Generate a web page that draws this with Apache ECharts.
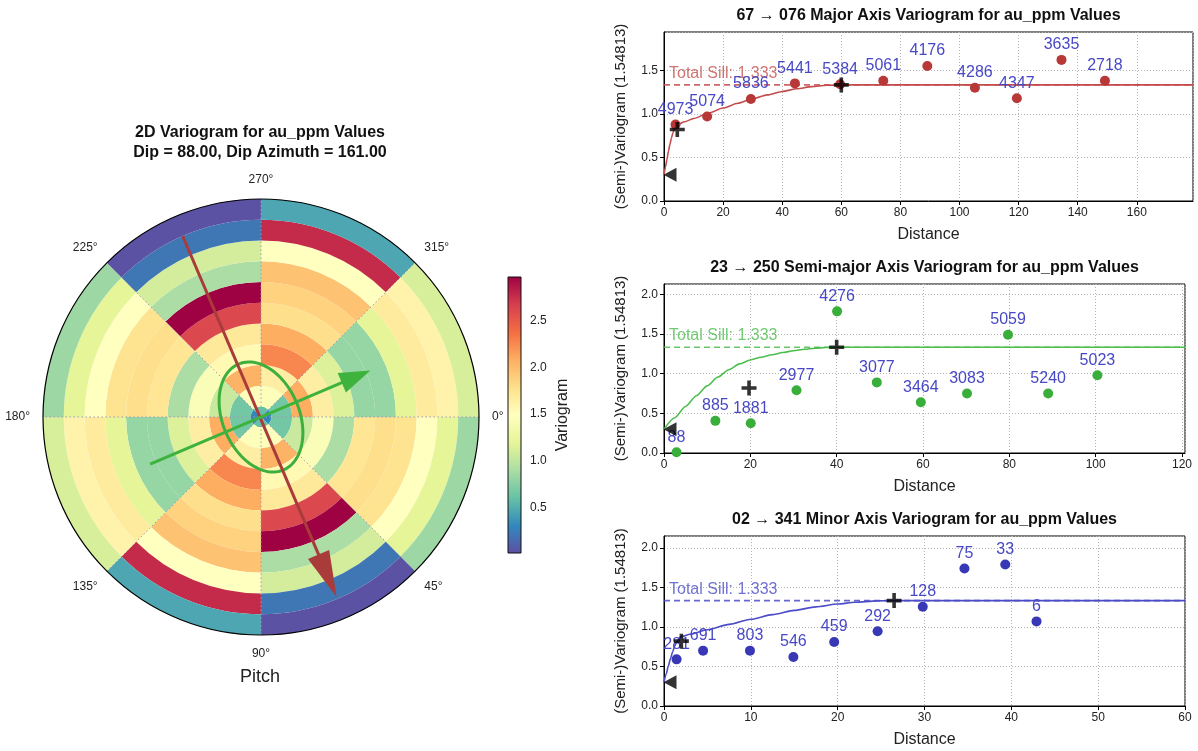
<!DOCTYPE html>
<html>
<head>
<meta charset="utf-8">
<script src="https://cdn.jsdelivr.net/npm/echarts@6/dist/echarts.min.js"></script>
<style>
  html, body { margin: 0; padding: 0; background: #fff; }
  #chart { width: 1198px; height: 751px; }
</style>
</head>
<body>
<div id="chart"></div>
<script>
// ---------- pitch-plane variogram map (8 direction sectors x 11 lag rings) ----------
const sectorLabels = ['0-45', '45-90', '90-135', '135-180', '180-225', '225-270', '270-315', '315-360'];
const ringWidths = [0.5, 1, 1, 1, 1, 1, 1, 1, 1, 1, 1];   // lag bins, the first one is the half bin at the origin
// variogram value per ring (inner -> outer); opposite sectors share the same values
const sectorA = [0.30, 0.66, 1.05, 1.43, 0.90, 1.73, 1.78, 1.75, 1.49, 1.19, 0.84]; //   0-45  / 180-225
const sectorB = [0.60, 1.47, 2.05, 1.55, 1.70, 2.61, 2.96, 0.90, 1.10, 0.22, 0.03]; //  45-90  / 225-270
const sectorC = [0.60, 1.45, 1.65, 2.26, 2.08, 1.78, 1.87, 1.96, 1.49, 2.76, 0.46]; //  90-135 / 270-315
const sectorD = [0.30, 0.66, 2.08, 1.65, 1.15, 0.81, 0.81, 1.19, 1.68, 1.60, 1.12]; // 135-180 / 315-360
const colorMin = 0.014, colorMax = 2.965;
const colorTicks = [0.5, 1.0, 1.5, 2.0, 2.5];
const angleTicks = [0, 45, 90, 135];          // sector boundary diameters
const spectralR = ['#5e4fa2', '#3288bd', '#66c2a5', '#abdda4', '#e6f598', '#ffffbf',
                   '#fee08b', '#fdae61', '#f46d43', '#d53e4f', '#9e0142'];

// anisotropy overlays, [radius, angle] in map units
const majorArrow = [[9.50, 246.6, 9.40, 67.2]];
const minorArrow = [[5.80, 157.0, 5.72, 337.0]];
const rangeEllipse = [[2.77, 1.85, 67.0]];   // [major, minor, azimuth]

// ---------- directional experimental variograms ----------
const nugget = 0.3;
const sill = 1.333;

const majorLag   = [3.9, 14.6, 29.4, 44.3, 59.6, 74.2, 89.1, 105.2, 119.4, 134.5, 149.2];
const majorGamma = [0.877, 0.97, 1.17, 1.35, 1.34, 1.38, 1.55, 1.30, 1.18, 1.62, 1.38];
const majorPairs = [4973, 5074, 5836, 5441, 5384, 5061, 4176, 4286, 4347, 3635, 2718];
const majorModel = [[0, 0.30], [0.5, 0.39], [1, 0.48], [1.5, 0.57], [2, 0.65], [2.5, 0.72], [3, 0.78],
                    [3.5, 0.83], [4, 0.86], [4.5, 0.878], [7, 0.909], [10, 0.947], [15, 1.008],
                    [20, 1.067], [25, 1.122], [30, 1.173], [35, 1.218], [40, 1.257], [45, 1.289],
                    [50, 1.313], [55, 1.328], [60, 1.333], [179, 1.333]];
const majorRanges = [[4.5, 0.82], [60, 1.333]];

const semiLag   = [2.9, 11.9, 20.1, 30.7, 40.1, 49.3, 59.5, 70.2, 79.7, 89.0, 100.4];
const semiGamma = [0.01, 0.405, 0.375, 0.79, 1.785, 0.89, 0.64, 0.75, 1.49, 0.75, 0.98];
const semiPairs = [88, 885, 1881, 2977, 4276, 3077, 3464, 3083, 5059, 5240, 5023];
const semiModel = [[0, 0.30], [2.5, 0.445], [5, 0.587], [7.5, 0.722], [10, 0.846], [12.5, 0.957],
                   [15, 1.050], [17.5, 1.123], [20, 1.173], [22.5, 1.207], [25, 1.238], [27.5, 1.266],
                   [30, 1.289], [32.5, 1.308], [35, 1.321], [37.5, 1.330], [40, 1.333], [120.7, 1.333]];
const semiRanges = [[19.7, 0.82], [40, 1.333]];

const minorLag   = [1.45, 4.5, 9.9, 14.9, 19.6, 24.6, 29.8, 34.6, 39.3, 42.9];
const minorGamma = [0.59, 0.70, 0.70, 0.62, 0.81, 0.945, 1.255, 1.74, 1.79, 1.07];
const minorPairs = [281, 691, 803, 546, 459, 292, 128, 75, 33, 6];
const minorModel = [[0, 0.30], [0.25, 0.404], [0.5, 0.505], [0.75, 0.60], [1, 0.687], [1.25, 0.760],
                    [1.5, 0.819], [1.75, 0.859], [2, 0.878], [3, 0.907], [5, 0.964], [7.5, 1.032],
                    [10, 1.097], [12.5, 1.156], [15, 1.209], [17.5, 1.254], [20, 1.290], [22, 1.312],
                    [24.5, 1.329], [26.5, 1.333], [60, 1.333]];
const minorRanges = [[2, 0.82], [26.5, 1.333]];

// ---------- layout / styling ----------
const FONT = '"Liberation Sans", Arial, Helvetica, sans-serif';
const TXT = '#222';
const sectorValues = [sectorA, sectorB, sectorC, sectorD];
const PLUS = 'path://M38,0H62V38H100V62H62V100H38V62H0V38H38Z';

const panels = [
  { title: '67 \u2192 076 Major Axis Variogram for au_ppm Values', lag: majorLag, gamma: majorGamma,
    pairs: majorPairs, model: majorModel, ranges: majorRanges,
    top: 32, width: 529, height: 169, xMax: 179, xStep: 20, yMax: 1.94,
    point: '#b83838', line: '#c44b4b', sillText: '#c4514f' },
  { title: '23 \u2192 250 Semi-major Axis Variogram for au_ppm Values', lag: semiLag, gamma: semiGamma,
    pairs: semiPairs, model: semiModel, ranges: semiRanges,
    top: 284, width: 521, height: 169, xMax: 120.7, xStep: 20, yMax: 2.13,
    point: '#3aae3a', line: '#4dbd4d', sillText: '#4dbd4d' },
  { title: '02 \u2192 341 Minor Axis Variogram for au_ppm Values', lag: minorLag, gamma: minorGamma,
    pairs: minorPairs, model: minorModel, ranges: minorRanges,
    top: 536, width: 521, height: 170, xMax: 60, xStep: 10, yMax: 2.15,
    point: '#3838b6', line: '#4c4cc8', sillText: '#4c4cc8' }
];

const PLOT_LEFT = 664;
const grids = [], xAxes = [], yAxes = [], titles = [], series = [];

panels.forEach((p, i) => {
  grids.push({ left: PLOT_LEFT, top: p.top, width: p.width, height: p.height,
               show: true, borderColor: '#000', borderWidth: 1, backgroundColor: 'transparent' });
  xAxes.push({
    gridIndex: i, type: 'value', min: 0, max: p.xMax, interval: p.xStep,
    name: 'Distance', nameLocation: 'middle', nameGap: 26,
    nameTextStyle: { fontSize: 16, color: TXT, fontFamily: FONT },
    axisLine: { show: true, lineStyle: { color: '#000', width: 1 } },
    axisTick: { show: true, length: 4, lineStyle: { color: '#000' } },
    axisLabel: { fontSize: 12, color: TXT, margin: 6, fontFamily: FONT,
                 showMaxLabel: p.xMax % p.xStep === 0 },
    splitLine: { show: true, lineStyle: { color: '#b4b4b4', type: [1, 2], width: 1 } }
  });
  yAxes.push({
    gridIndex: i, type: 'value', min: 0, max: p.yMax, interval: 0.5,
    name: '(Semi-)Variogram (1.54813)', nameLocation: 'middle', nameGap: 36, nameRotate: 90,
    nameTextStyle: { fontSize: 15, color: TXT, fontFamily: FONT },
    axisLine: { show: true, lineStyle: { color: '#000', width: 1 } },
    axisTick: { show: true, length: 4, lineStyle: { color: '#000' } },
    axisLabel: { fontSize: 12, color: TXT, margin: 6, fontFamily: FONT, showMaxLabel: false,
                 formatter: v => v.toFixed(1) },
    splitLine: { show: true, lineStyle: { color: '#b4b4b4', type: [1, 2], width: 1 } }
  });
  titles.push({ text: p.title, left: PLOT_LEFT + p.width / 2, top: p.top - 24, textAlign: 'center', padding: 0,
                textStyle: { fontSize: 16, fontWeight: 'bold', color: '#111', fontFamily: FONT } });

  // fitted model
  series.push({ type: 'line', xAxisIndex: i, yAxisIndex: i, data: p.model, smooth: 0.25,
                smoothMonotone: 'x', showSymbol: false, silent: true, z: 3,
                lineStyle: { color: p.line, width: 1.6 } });
  // total sill
  series.push({ type: 'line', xAxisIndex: i, yAxisIndex: i, data: [[0, sill], [p.xMax, sill]],
                showSymbol: false, silent: true, z: 3,
                lineStyle: { color: p.line, width: 1.6, type: [6, 4], opacity: 0.85 } });
  series.push({ type: 'scatter', xAxisIndex: i, yAxisIndex: i, data: [[0, sill]], symbolSize: 1,
                itemStyle: { color: 'rgba(0,0,0,0)' }, silent: true, z: 4,
                label: { show: true, position: 'top', align: 'left', distance: 3, offset: [5, 0],
                         formatter: 'Total Sill: ' + sill.toFixed(3),
                         fontSize: 16, color: p.sillText, fontFamily: FONT } });
  // experimental points with pair counts
  series.push({ type: 'scatter', xAxisIndex: i, yAxisIndex: i, z: 5, silent: true,
                data: p.lag.map((x, k) => [x, p.gamma[k], p.pairs[k]]),
                symbolSize: 10, itemStyle: { color: p.point, opacity: 1 },
                label: { show: true, position: 'top', distance: 2, formatter: d => d.value[2],
                         fontSize: 16, color: '#4848c6', fontFamily: FONT } });
  // nugget marker
  series.push({ type: 'scatter', xAxisIndex: i, yAxisIndex: i, z: 6, silent: true,
                data: [[0, nugget]], symbol: 'triangle', symbolRotate: 90, symbolSize: [14, 13],
                symbolOffset: [6, 0], itemStyle: { color: '#000' } });
  // structure ranges
  series.push({ type: 'scatter', xAxisIndex: i, yAxisIndex: i, z: 6, silent: true,
                data: p.ranges, symbol: PLUS, symbolSize: 15, itemStyle: { color: '#000' } });
});

// colorbar axes
grids.push({ left: 508, top: 277, width: 13, height: 276, show: false });
xAxes.push({ gridIndex: 3, type: 'value', min: 0, max: 1, show: false });
yAxes.push({
  gridIndex: 3, type: 'value', min: colorMin, max: colorMax, position: 'right',
  name: 'Variogram', nameLocation: 'middle', nameGap: 34, nameRotate: 90,
  nameTextStyle: { fontSize: 16, color: TXT, fontFamily: FONT },
  axisLine: { show: false },
  axisTick: { show: true, length: 4, customValues: colorTicks, lineStyle: { color: '#000' } },
  axisLabel: { fontSize: 12, color: TXT, margin: 9, fontFamily: FONT, customValues: colorTicks,
               formatter: v => v.toFixed(1) },
  splitLine: { show: false }
});
series.push({
  type: 'custom', xAxisIndex: 3, yAxisIndex: 3, silent: true, data: [[0, colorMin, 1, colorMax]],
  renderItem: (params, api) => {
    const p0 = api.coord([api.value(0), api.value(1)]);
    const p1 = api.coord([api.value(2), api.value(3)]);
    return { type: 'rect',
      shape: { x: p0[0], y: p1[1], width: p1[0] - p0[0], height: p0[1] - p1[1] },
      style: { fill: new echarts.graphic.LinearGradient(0, 1, 0, 0,
                 spectralR.map((c, k) => ({ offset: k / (spectralR.length - 1), color: c }))),
               stroke: '#111', lineWidth: 1 } };
  }
});

// heat rings on the pitch plane
const heatSeriesIdx = [];
ringWidths.forEach((w, i) => {
  heatSeriesIdx.push(series.length);
  series.push({
    type: 'bar', coordinateSystem: 'polar', polarIndex: 0, stack: 'rings',
    barCategoryGap: '0%', silent: true, z: 2,
    encode: { radius: 0, angle: 1 },
    itemStyle: { borderWidth: 0 },
    data: sectorLabels.map((s, k) => [w, s, sectorValues[k % 4][i]])
  });
});

// dotted sector boundaries
series.push({
  type: 'custom', coordinateSystem: 'polar', polarIndex: 1, silent: true, z: 6,
  data: angleTicks.map(a => [10.5, a]),
  renderItem: (params, api) => {
    const r = api.value(0), a = api.value(1);
    const p = api.coord([r, a]), q = api.coord([r, a + 180]);
    return { type: 'line', shape: { x1: p[0], y1: p[1], x2: q[0], y2: q[1] },
             style: { stroke: '#9c9cac', lineWidth: 1, lineDash: [1.5, 2.5] } };
  }
});

function arrowRenderer(headLen, headWidth, color, width) {
  return (params, api) => {
    const t = api.coord([api.value(0), api.value(1)]);
    const h = api.coord([api.value(2), api.value(3)]);
    const dx = h[0] - t[0], dy = h[1] - t[1], L = Math.hypot(dx, dy);
    const ux = dx / L, uy = dy / L;
    const bx = h[0] - ux * headLen, by = h[1] - uy * headLen;
    return { type: 'group', children: [
      { type: 'line', shape: { x1: t[0], y1: t[1], x2: bx + ux * 2, y2: by + uy * 2 },
        style: { stroke: color, lineWidth: width } },
      { type: 'polygon',
        shape: { points: [[h[0], h[1]], [bx - uy * headWidth / 2, by + ux * headWidth / 2],
                          [bx + uy * headWidth / 2, by - ux * headWidth / 2]] },
        style: { fill: color } }
    ] };
  };
}

// range ellipse
series.push({
  type: 'custom', coordinateSystem: 'polar', polarIndex: 1, silent: true, z: 7,
  data: rangeEllipse,
  renderItem: (params, api) => {
    const a = api.value(0), b = api.value(1), az = api.value(2);
    const c = api.coord([0, az]);
    const pa = api.coord([a, az]), pb = api.coord([b, (az + 270) % 360]);
    const pts = [];
    for (let k = 0; k <= 96; k++) {
      const th = 2 * Math.PI * k / 96;
      pts.push([c[0] + Math.cos(th) * (pa[0] - c[0]) + Math.sin(th) * (pb[0] - c[0]),
                c[1] + Math.cos(th) * (pa[1] - c[1]) + Math.sin(th) * (pb[1] - c[1])]);
    }
    return { type: 'polyline', shape: { points: pts }, style: { stroke: '#3daf3d', lineWidth: 3, fill: null } };
  }
});
series.push({ type: 'custom', coordinateSystem: 'polar', polarIndex: 1, silent: true, z: 8,
              data: majorArrow, renderItem: arrowRenderer(46, 23, '#aa3b3b', 3) });
series.push({ type: 'custom', coordinateSystem: 'polar', polarIndex: 1, silent: true, z: 8,
              data: minorArrow, renderItem: arrowRenderer(31, 21, '#3db33d', 3) });

titles.push({ text: '2D Variogram for au_ppm Values\nDip = 88.00, Dip Azimuth = 161.00',
              left: 260, top: 123, textAlign: 'center', padding: 0,
              textStyle: { fontSize: 16, fontWeight: 'bold', lineHeight: 20, color: '#111', fontFamily: FONT } });
titles.push({ text: 'Pitch', left: 260, top: 668, textAlign: 'center', padding: 0,
              textStyle: { fontSize: 18, fontWeight: 'normal', color: TXT, fontFamily: FONT } });

const option = {
  animation: false,
  backgroundColor: '#fff',
  textStyle: { fontFamily: FONT },
  title: titles,
  grid: grids,
  xAxis: xAxes,
  yAxis: yAxes,
  polar: [{ center: [261, 417], radius: 218 }, { center: [261, 417], radius: 218 }],
  angleAxis: [
    { polarIndex: 0, type: 'category', data: sectorLabels, startAngle: 0, clockwise: true,
      boundaryGap: true, axisLine: { show: false }, axisTick: { show: false },
      axisLabel: { show: false }, splitLine: { show: false } },
    { polarIndex: 1, type: 'value', min: 0, max: 360, interval: 45, startAngle: 0, clockwise: true, z: 9,
      axisLine: { show: true, lineStyle: { color: '#000', width: 1.2 } },
      axisTick: { show: false },
      axisLabel: { fontSize: 12, color: TXT, margin: 13, fontFamily: FONT,
                   formatter: v => (v === 360 ? '' : v + '\u00b0') },
      splitLine: { show: false } }
  ],
  radiusAxis: [
    { polarIndex: 0, type: 'value', min: 0, max: 10.5, show: false },
    { polarIndex: 1, type: 'value', min: 0, max: 10.5, show: false }
  ],
  visualMap: {
    type: 'continuous', show: false, min: colorMin, max: colorMax, dimension: 2,
    seriesIndex: heatSeriesIdx, inRange: { color: spectralR }
  },
  series: series
};

const chart = echarts.init(document.getElementById('chart'));
chart.setOption(option);
</script>
</body>
</html>
